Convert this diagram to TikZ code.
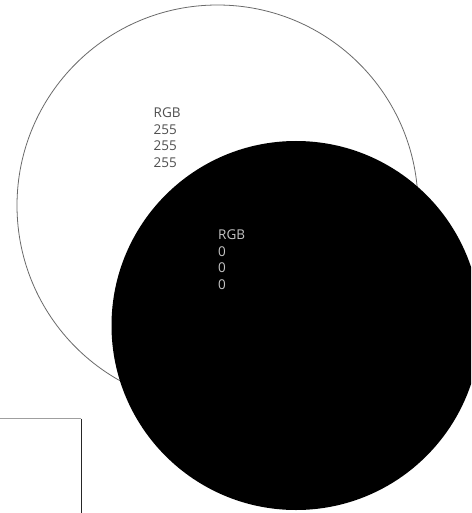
\documentclass[tikz,border=0pt]{standalone}
\usepackage{fontspec}
\setmainfont{Open Sans}
\usepackage{xcolor}
\usepackage{tikz}
\usetikzlibrary{positioning}

\definecolor{rimgray}{HTML}{6A6A6A}
\definecolor{darklbl}{HTML}{505050}
\definecolor{lightlbl}{HTML}{C4C4C4}

\begin{document}
\begin{tikzpicture}[
  x=1pt, y=-1pt,
  font=\fontsize{13.5}{16.6}\selectfont,
  disc/.style={circle, inner sep=0pt, outer sep=0pt},
  rgblbl/.style={anchor=north west, align=left, inner sep=0pt}]
\useasboundingbox (0,0) rectangle (471,513);
\clip (0,0) rectangle (471,513);
\node[disc, draw=rimgray, line width=0.8pt, fill=white, minimum size=401pt] (white) at (217.5,205.5) {};
\node[disc, fill=black, minimum size=369pt] (black) at (296,325.5) {};
\node[rgblbl, text=darklbl] (whitelbl) at (153.5,107.5) {RGB\\255\\255\\255};
\node[rgblbl, text=lightlbl] (blacklbl) at (218,229.5) {RGB\\0\\0\\0};
% corner of the frame below left
\coordinate (frametop) at (81,418.5);
\draw[gray!75, line width=1pt] (-2,418.5) -- (frametop);
\draw[black!85, line width=1pt] (frametop) -- (81,520);
\end{tikzpicture}
\end{document}
